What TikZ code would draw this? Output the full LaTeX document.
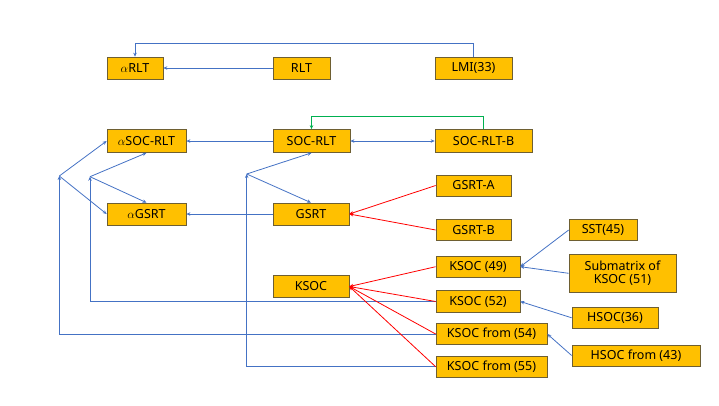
\documentclass[tikz,border=0pt]{standalone}
\usepackage{fontspec}
\setmainfont{Noto Sans}
\usetikzlibrary{arrows.meta}
\definecolor{boxfill}{HTML}{FFC000}
\definecolor{boxdraw}{RGB}{110,95,50}
\definecolor{bl}{HTML}{4472C4}
\definecolor{gr}{HTML}{00B050}
\begin{document}
\begin{tikzpicture}[x=1pt,y=-1pt,
  box/.style={draw=boxdraw,fill=boxfill,line width=0.7pt,inner sep=0pt,align=center,
    font=\fontsize{12.5}{13.5}\selectfont},
  tip/.style={-{Stealth[length=4pt,width=3.5pt]}},
  bline/.style={draw=bl,line width=0.8pt,tip},
  rline/.style={draw=red,line width=0.8pt,tip},
  gline/.style={draw=gr,line width=0.8pt,tip}]
\useasboundingbox (0,0) rectangle (719,405);
% nodes
\node[box,minimum width=56pt,minimum height=22pt] (aRLT) at (135,68) {$\alpha$RLT};
\node[box,minimum width=57pt,minimum height=22pt] (RLT) at (301.5,68) {RLT};
\node[box,minimum width=77pt,minimum height=22pt] (LMI) at (473.5,68) {LMI(33)};
\node[box,minimum width=79pt,minimum height=23pt] (aSOC) at (146.5,141) {$\alpha$SOC-RLT};
\node[box,minimum width=77pt,minimum height=23pt] (SOC) at (311.5,141) {SOC-RLT};
\node[box,minimum width=97pt,minimum height=23pt] (SOCB) at (483.5,141) {SOC-RLT-B};
\node[box,minimum width=79pt,minimum height=22pt] (aGSRT) at (146.5,214) {$\alpha$GSRT};
\node[box,minimum width=76pt,minimum height=22pt] (GSRT) at (311,214) {GSRT};
\node[box,minimum width=76pt,minimum height=21.5pt] (KSOC) at (311,286.5) {KSOC};
\node[box,minimum width=75pt,minimum height=21pt] (GA) at (473.5,185.5) {GSRT-A};
\node[box,minimum width=75pt,minimum height=21pt] (GB) at (473.5,230) {GSRT-B};
\node[box,minimum width=68pt,minimum height=21pt] (SST) at (603,230) {SST(45)};
\node[box,minimum width=84pt,minimum height=21pt] (K49) at (478,266.7) {KSOC (49)};
\node[box,minimum width=107pt,minimum height=38pt] (Sub) at (622.5,273.3) {Submatrix of\\KSOC (51)};
\node[box,minimum width=84pt,minimum height=21.5pt] (K52) at (478,301.5) {KSOC (52)};
\node[box,minimum width=86pt,minimum height=21pt] (H36) at (615,317.8) {HSOC(36)};
\node[box,minimum width=111pt,minimum height=21.5pt] (K54) at (491.5,334) {KSOC from (54)};
\node[box,minimum width=128pt,minimum height=21pt] (H43) at (636,355.5) {HSOC from (43)};
\node[box,minimum width=111pt,minimum height=21pt] (K55) at (491.5,366.7) {KSOC from (55)};
% branch points and corners
\coordinate (P1) at (59.3,176);
\coordinate (P2) at (90,176.7);
\coordinate (P3) at (246.7,174);
\coordinate (T1) at (135,43.3);
\coordinate (G1) at (311.5,116.7);
% top
\draw[bline] (LMI.north) |- (T1) -- (aRLT.north);
\draw[bline] (RLT.west) -- (aRLT.east);
% green loop
\draw[gline] (SOCB.north) |- (G1) -- (SOC.north);
\draw[draw=bl,line width=0.8pt,{Stealth[length=4pt,width=3.5pt]}-{Stealth[length=4pt,width=3.5pt]}] (SOC.east) -- (SOCB.west);
\draw[bline] (SOC.west) -- (aSOC.east);
\draw[bline] (GSRT.west) -- (aGSRT.east);
% branches
\draw[bline] (P1) -- (aSOC.west);
\draw[bline] (P1) -- (aGSRT.west);
\draw[bline] (P2) -- (aSOC.south);
\draw[bline] (P2) -- (aGSRT.north);
\draw[bline] (P3) -- (SOC.south);
\draw[bline] (P3) -- (GSRT.north);
\draw[bline] (K52.west) -| (P2);
\draw[bline] (K54.west) -| (P1);
\draw[bline] (K55.west) -| (P3);
% red
\draw[rline] (GA.west) -- (GSRT.east);
\draw[rline] (GB.west) -- (GSRT.east);
\draw[rline] (K49.west) -- (KSOC.east);
\draw[rline] (K52.west) -- (KSOC.east);
\draw[rline] (K54.west) -- (KSOC.east);
\draw[rline] (K55.west) -- (KSOC.east);
% right blue
\draw[bline] (SST.west) -- (K49.east);
\draw[bline] (Sub.west) -- (K49.east);
\draw[bline] (H36.west) -- (K52.east);
\draw[bline] (H43.west) -- (K54.east);
\end{tikzpicture}
\end{document}
